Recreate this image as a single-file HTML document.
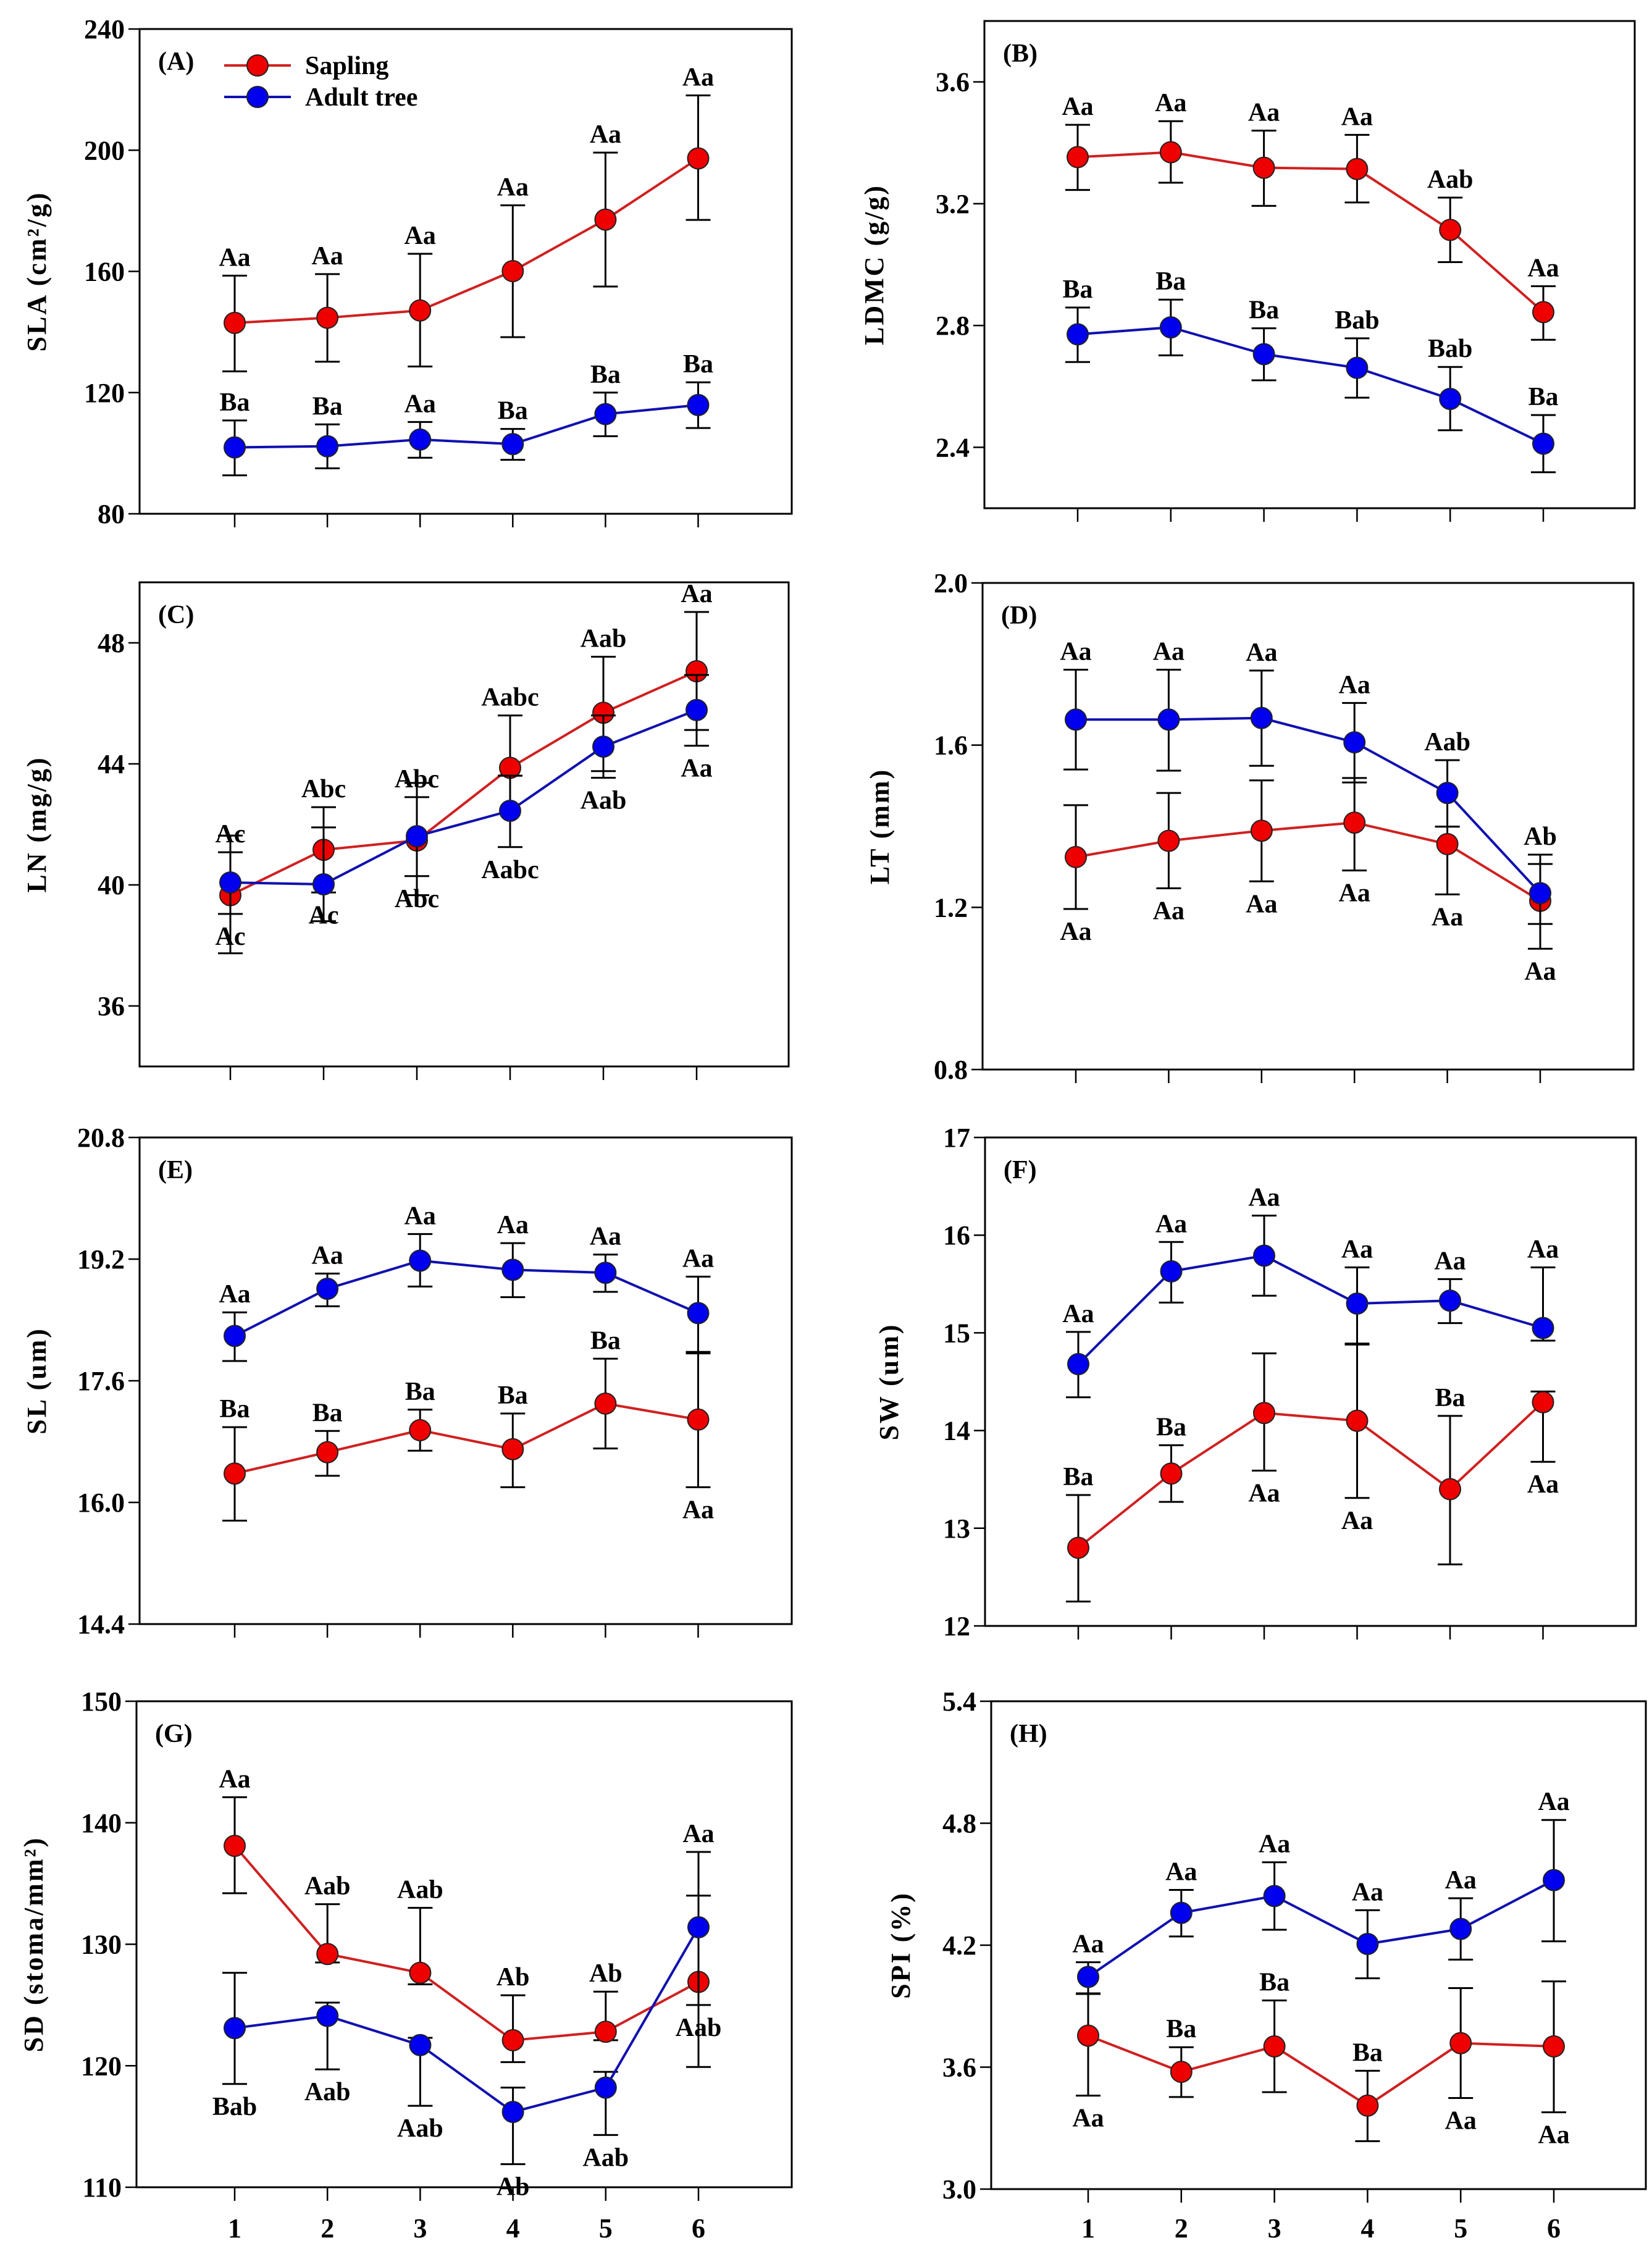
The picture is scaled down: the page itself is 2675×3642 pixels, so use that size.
<!DOCTYPE html>
<html><head><meta charset="utf-8">
<style>
html,body{margin:0;padding:0;background:#fff;}
svg{display:block;}
text{font-family:"Liberation Serif",serif;font-weight:bold;fill:#000;}
</style></head>
<body>
<svg id="fig" width="2675" height="3642" viewBox="0 0 2675 3642" xmlns="http://www.w3.org/2000/svg"></svg>
<script>
// ---------- DATA ----------
const categories = [1,2,3,4,5,6];
// A: SLA
const slaSap = [143.0,144.7,147.1,160.1,177.1,197.3];
const slaSapHi = [158.6,159.1,165.8,181.8,199.2,218.1];
const slaSapLo = [127.0,130.2,128.6,138.3,155.0,177.0];
const slaAdult = [101.9,102.3,104.5,103.0,112.9,115.9];
const slaAdultHi = [110.8,109.5,110.3,108.0,120.0,123.4];
const slaAdultLo = [92.7,95.0,98.5,97.8,105.6,108.3];
const slaSapLab = ["Aa","Aa","Aa","Aa","Aa","Aa"];
const slaAdultLab = ["Ba","Ba","Aa","Ba","Ba","Ba"];
// B: LDMC
const ldmcSap = [3.353,3.369,3.318,3.314,3.114,2.844];
const ldmcSapHi = [3.459,3.471,3.44,3.426,3.22,2.929];
const ldmcSapLo = [3.245,3.269,3.193,3.204,3.008,2.753];
const ldmcAdult = [2.771,2.794,2.706,2.661,2.559,2.412];
const ldmcAdultHi = [2.859,2.885,2.791,2.758,2.664,2.506];
const ldmcAdultLo = [2.68,2.702,2.62,2.563,2.456,2.318];
const ldmcSapLab = ["Aa","Aa","Aa","Aa","Aab","Aa"];
const ldmcAdultLab = ["Ba","Ba","Ba","Bab","Bab","Ba"];
// C: LN
const lnSap = [39.66,41.16,41.47,43.87,45.69,47.06];
const lnSapHi = [41.08,42.57,42.9,45.6,47.54,49.02];
const lnSapLo = [37.74,38.80,39.66,43.61,43.76,45.12];
const lnAdult = [40.08,40.02,41.61,42.45,44.57,45.78];
const lnAdultHi = [41.63,41.9,43.37,43.61,45.6,46.94];
const lnAdultLo = [39.04,39.75,40.29,41.25,43.54,44.6];
const lnSapLab = ["Ac","Abc","Abc","Aabc","Aab","Aa"];
const lnAdultLab = ["Ac","Ac","Abc","Aabc","Aab","Aa"];
// D: LT
const ltSap = [1.324,1.364,1.389,1.409,1.356,1.216];
const ltSapHi = [1.452,1.482,1.513,1.519,1.399,1.307];
const ltSapLo = [1.196,1.247,1.264,1.291,1.232,1.098];
const ltAdult = [1.663,1.663,1.667,1.607,1.482,1.235];
const ltAdultHi = [1.786,1.786,1.784,1.704,1.563,1.33];
const ltAdultLo = [1.54,1.537,1.549,1.508,1.399,1.159];
const ltSapLab = ["Aa","Aa","Aa","Aa","Aa","Aa"];
const ltAdultLab = ["Aa","Aa","Aa","Aa","Aab","Ab"];
// E: SL
const slSap = [16.38,16.66,16.95,16.70,17.30,17.09];
const slSapHi = [16.99,16.94,17.22,17.17,17.89,17.96];
const slSapLo = [15.76,16.35,16.68,16.20,16.71,16.20];
const slAdult = [18.19,18.81,19.18,19.06,19.02,18.49];
const slAdultHi = [18.50,19.01,19.53,19.41,19.26,18.97];
const slAdultLo = [17.86,18.58,18.84,18.70,18.77,17.98];
const slSapLab = ["Ba","Ba","Ba","Ba","Ba","Aa"];
const slAdultLab = ["Aa","Aa","Aa","Aa","Aa","Aa"];
// F: SW
const swSap = [12.80,13.56,14.18,14.10,13.40,14.29];
const swSapHi = [13.34,13.85,14.79,14.89,14.15,14.40];
const swSapLo = [12.25,13.27,13.59,13.31,12.63,13.68];
const swAdult = [14.68,15.63,15.79,15.30,15.33,15.05];
const swAdultHi = [15.01,15.93,16.2,15.67,15.55,15.67];
const swAdultLo = [14.34,15.31,15.38,14.88,15.10,14.92];
const swSapLab = ["Ba","Ba","Aa","Aa","Ba","Aa"];
const swAdultLab = ["Aa","Aa","Aa","Aa","Aa","Aa"];
// G: SD
const sdSap = [138.1,129.2,127.65,122.1,122.8,126.9];
const sdSapHi = [142.1,133.3,133.0,125.8,126.1,137.6];
const sdSapLo = [134.2,128.5,126.7,120.3,122.1,119.9];
const sdAdult = [123.1,124.1,121.7,116.2,118.2,131.4];
const sdAdultHi = [127.65,125.2,122.3,118.2,119.5,134.0];
const sdAdultLo = [118.5,119.7,116.7,111.9,114.3,125.0];
const sdSapLab = ["Aa","Aab","Aab","Ab","Ab","Aa"];
const sdAdultLab = ["Bab","Aab","Aab","Ab","Aab","Aab"];
// H: SPI
const spiSap = [3.755,3.577,3.702,3.411,3.718,3.702];
const spiSapHi = [3.96,3.698,3.928,3.582,3.989,4.022];
const spiSapLo = [3.46,3.453,3.477,3.236,3.448,3.378];
const spiAdult = [4.044,4.359,4.442,4.206,4.28,4.52];
const spiAdultHi = [4.116,4.472,4.608,4.372,4.431,4.816];
const spiAdultLo = [3.963,4.243,4.276,4.037,4.129,4.219];
const spiSapLab = ["Aa","Ba","Ba","Ba","Aa","Aa"];
const spiAdultLab = ["Aa","Aa","Aa","Aa","Aa","Aa"];

const slaTicks = ["80","120","160","200","240"];
const ldmcTicks = ["2.4","2.8","3.2","3.6"];
const lnTicks = ["36","40","44","48"];
const ltTicks = ["0.8","1.2","1.6","2.0"];
const slTicks = ["14.4","16.0","17.6","19.2","20.8"];
const swTicks = ["12","13","14","15","16","17"];
const sdTicks = ["110","120","130","140","150"];
const spiTicks = ["3.0","3.6","4.2","4.8","5.4"];

// ---------- DRAWING ----------
const NS = "http://www.w3.org/2000/svg";
const svg = document.getElementById('fig');
function mk(tag, attrs, parent){
  const e = document.createElementNS(NS, tag);
  for (const k in attrs) e.setAttribute(k, attrs[k]);
  (parent||svg).appendChild(e);
  return e;
}
const RED_LINE="#d02020", BLUE_LINE="#1010b0", RED="#ee0000", BLUE="#0000ee";

const panels = [
 {id:"a",tag:"(A)",title:"SLA (cm²/g)",sup:true,l:226,r:1282,t:47,b:832,y0:80,y1:240,ticks:slaTicks,x0:380,dx:150.1,tx:60,
  sap:slaSap,sapHi:slaSapHi,sapLo:slaSapLo,ad:slaAdult,adHi:slaAdultHi,adLo:slaAdultLo,sapLab:slaSapLab,adLab:slaAdultLab,sapPos:"uuuuuu",adPos:"uuuuuu",legend:true},
 {id:"b",tag:"(B)",title:"LDMC (g/g)",l:1594,r:2647,t:34,b:823,y0:2.2,y1:3.8,ticks:ldmcTicks,tickStart:2.4,tickStep:0.4,x0:1745,dx:150.8,tx:1416,
  sap:ldmcSap,sapHi:ldmcSapHi,sapLo:ldmcSapLo,ad:ldmcAdult,adHi:ldmcAdultHi,adLo:ldmcAdultLo,sapLab:ldmcSapLab,adLab:ldmcAdultLab,sapPos:"uuuuuu",adPos:"uuuuuu"},
 {id:"c",tag:"(C)",title:"LN (mg/g)",l:226,r:1277,t:943,b:1727,y0:34,y1:50,ticks:lnTicks,tickStart:36,tickStep:4,x0:373,dx:151,tx:60,
  sap:lnSap,sapHi:lnSapHi,sapLo:lnSapLo,ad:lnAdult,adHi:lnAdultHi,adLo:lnAdultLo,sapLab:lnSapLab,adLab:lnAdultLab,sapPos:"uuuuuu",adPos:"dddddd"},
 {id:"d",tag:"(D)",title:"LT (mm)",l:1591,r:2645,t:944,b:1732,y0:0.8,y1:2.0,ticks:ltTicks,x0:1742,dx:150.4,tx:1425,
  sap:ltSap,sapHi:ltSapHi,sapLo:ltSapLo,ad:ltAdult,adHi:ltAdultHi,adLo:ltAdultLo,sapLab:ltSapLab,adLab:ltAdultLab,sapPos:"dddddd",adPos:"uuuuuu"},
 {id:"e",tag:"(E)",title:"SL (um)",l:226,r:1282,t:1842,b:2630,y0:14.4,y1:20.8,ticks:slTicks,x0:380,dx:150.1,tx:60,
  sap:slSap,sapHi:slSapHi,sapLo:slSapLo,ad:slAdult,adHi:slAdultHi,adLo:slAdultLo,sapLab:slSapLab,adLab:slAdultLab,sapPos:"uuuuud",adPos:"uuuuuu"},
 {id:"f",tag:"(F)",title:"SW (um)",l:1595,r:2649,t:1842,b:2633,y0:12,y1:17,ticks:swTicks,x0:1746,dx:150.5,tx:1440,
  sap:swSap,sapHi:swSapHi,sapLo:swSapLo,ad:swAdult,adHi:swAdultHi,adLo:swAdultLo,sapLab:swSapLab,adLab:swAdultLab,sapPos:"uuddud",adPos:"uuuuuu"},
 {id:"g",tag:"(G)",title:"SD (stoma/mm²)",sup:true,l:221,r:1282,t:2755,b:3542,y0:110,y1:150,ticks:sdTicks,x0:380,dx:150.2,tx:55,xlabels:true,
  sap:sdSap,sapHi:sdSapHi,sapLo:sdSapLo,ad:sdAdult,adHi:sdAdultHi,adLo:sdAdultLo,sapLab:sdSapLab,adLab:sdAdultLab,sapPos:"uuuuuu",adPos:"dddddd"},
 {id:"h",tag:"(H)",title:"SPI (%)",l:1605,r:2665,t:2755,b:3545,y0:3.0,y1:5.4,ticks:spiTicks,x0:1762,dx:150.8,tx:1459,xlabels:true,
  sap:spiSap,sapHi:spiSapHi,sapLo:spiSapLo,ad:spiAdult,adHi:spiAdultHi,adLo:spiAdultLo,sapLab:spiSapLab,adLab:spiAdultLab,sapPos:"duuudd",adPos:"uuuuuu"}
];

panels.forEach(p=>{
  const g = mk('g',{});
  
  
  const yS = v => p.b - (v-p.y0)/(p.y1-p.y0)*(p.b-p.t);
  const xS = c => p.x0 + (c-1)*p.dx;
  // frame
  const fr = mk('rect',{x:p.l,y:p.t,width:p.r-p.l,height:p.b-p.t,fill:'none',stroke:'#000','stroke-width':3},g);
  
  
  // y ticks
  p.ticks.forEach(tl=>{
    const v = parseFloat(tl);
    const y = yS(v);
    mk('line',{x1:p.l-18,x2:p.l,y1:y,y2:y,stroke:'#000','stroke-width':2.5},g);
    const t = mk('text',{x:p.l-24,y:y+15,'text-anchor':'end','font-size':44},g);
    t.textContent = tl;
    
    
  });
  // x ticks
  categories.forEach(c=>{
    const x = xS(c);
    mk('line',{x1:x,x2:x,y1:p.b,y2:p.b+22,stroke:'#000','stroke-width':2.5},g);
    if (p.xlabels){
      const t = mk('text',{x:x,y:3623,'text-anchor':'middle','font-size':44},g);
      t.textContent = String(c);
      
      
    }
  });
  // y title
  const tt = mk('text',{x:0,y:0,'text-anchor':'middle','font-size':44,'letter-spacing':3,
     transform:`translate(${p.tx+14},${(p.t+p.b)/2}) rotate(-90)`},g);
  
  
  tt.textContent = p.title;
  // panel tag
  const pt = mk('text',{x:p.l+30,y:p.t+66,'font-size':42},g);
  pt.textContent = p.tag;
  
  

  function series(vals,hi,lo,labs,pos,lineCol,fill,name){
    const sg = mk('g',{},g);
    
    
    // error bars
    vals.forEach((v,i)=>{
      const x = xS(categories[i]);
      const eb = mk('path',{d:`M${x},${yS(hi[i])}V${yS(lo[i])}M${x-20},${yS(hi[i])}H${x+20}M${x-20},${yS(lo[i])}H${x+20}`,stroke:'#000','stroke-width':3,fill:'none'},sg);
      
      
    });
    const pts = vals.map((v,i)=>xS(categories[i])+','+yS(v)).join(' ');
    const pl = mk('polyline',{points:pts,fill:'none',stroke:lineCol,'stroke-width':4},sg);
    
    
    vals.forEach((v,i)=>{
      const c = mk('circle',{cx:xS(categories[i]),cy:yS(v),r:17,fill:fill,stroke:'#222','stroke-width':2},sg);
      
      
    });
    return {sg,labs,pos,hi,lo,name};
  }
  function labels(s){
    s.labs.forEach((lb,i)=>{
      const x = xS(categories[i]);
      const up = s.pos[i]==='u';
      const y = up ? yS(s.hi[i])-16 : yS(s.lo[i])+50;
      const t = mk('text',{x:x,y:y,'text-anchor':'middle','font-size':42},g);
      t.textContent = lb;
      
      
    });
  }
  const s1 = series(p.sap,p.sapHi,p.sapLo,p.sapLab,p.sapPos,RED_LINE,RED,'sapling');
  const s2 = series(p.ad,p.adHi,p.adLo,p.adLab,p.adPos,BLUE_LINE,BLUE,'adult');
  labels(s1); labels(s2);

  if (p.legend){
    const lg = mk('g',{},g);
    
    
    [[106,RED_LINE,RED,'Sapling'],[157,BLUE_LINE,BLUE,'Adult tree']].forEach(e=>{
      const eg = mk('g',{},lg);
      
      
      mk('line',{x1:363,x2:471,y1:e[0],y2:e[0],stroke:e[1],'stroke-width':4},eg);
      mk('circle',{cx:417,cy:e[0],r:17,fill:e[2],stroke:'#222','stroke-width':2},eg);
      const t = mk('text',{x:494,y:e[0]+14,'font-size':42},eg);
      t.textContent = e[3];
    });
  }
});
</script>
</body></html>
